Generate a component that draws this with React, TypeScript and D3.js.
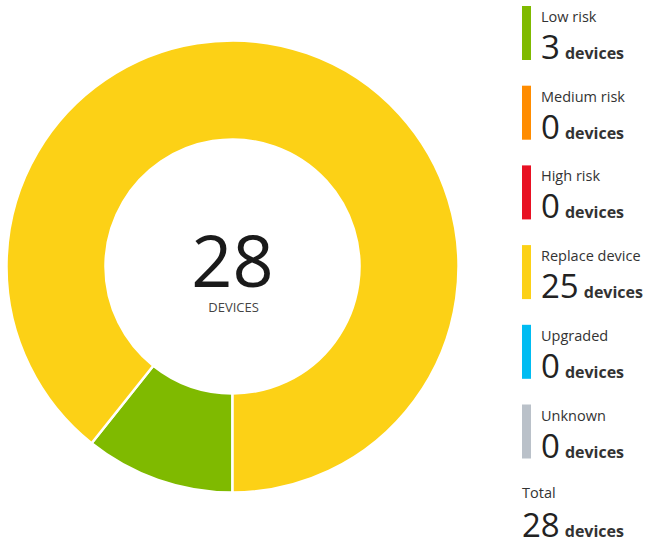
import React from "react";
import * as d3 from "d3";

const categories = ["Low risk", "Medium risk", "High risk", "Replace device", "Upgraded", "Unknown"];
const counts = [3, 0, 0, 25, 0, 0];
const colors = ["#7FBA00", "#FF8C00", "#E81123", "#FCD116", "#00BCF2", "#BAC1C9"];
const centerLabel = "DEVICES";
const unitLabel = "devices";
const totalLabel = "Total";

const W = 653;
const H = 549;
const FONT = "'Segoe UI', 'Open Sans', sans-serif";

export default function App() {
  const total = d3.sum(counts);
  const cx = 232.5;
  const cy = 266.5;
  const outerR = 226;
  const innerR = 127;

  const pie = d3
    .pie<number>()
    .sort(null)
    .startAngle(Math.PI)
    .endAngle(3 * Math.PI)
    .value((d) => d);
  const arcs = pie(counts);
  const arcGen = d3.arc<d3.PieArcDatum<number>>().innerRadius(innerR).outerRadius(outerR);

  const legendY = d3
    .scaleLinear()
    .domain([0, 1])
    .range([6, 6 + 79.7]);

  const rows = categories.map((c, i) => ({ c, v: counts[i], color: colors[i], top: legendY(i) }));
  const totalTop = legendY(categories.length);

  return (
    <svg width={W} height={H} style={{ position: "absolute", left: 0, top: 0, background: "#fff" }}>
      <g transform={`translate(${cx},${cy})`}>
        {arcs.map((a, i) =>
          a.value > 0 ? (
            <path key={i} d={arcGen(a) || ""} fill={colors[i]} stroke="#fff" strokeWidth={2.5} />
          ) : null
        )}
        <text
          x={0}
          y={20}
          textAnchor="middle"
          fontFamily={FONT}
          fontSize={72}
          fill="#1a1a1a"
        >
          {total}
        </text>
        <text x={1} y={45.5} textAnchor="middle" fontFamily={FONT} fontSize={13} fill="#444">
          {centerLabel}
        </text>
      </g>
      {rows.map((r, i) => (
        <g key={i} transform={`translate(522,${r.top})`}>
          <rect x={0} y={0} width={9} height={54} fill={r.color} />
          <text x={19} y={16} fontFamily={FONT} fontSize={14.5} fill="#333">
            {r.c}
          </text>
          <text x={19} y={53} fontFamily={FONT} fill="#222">
            <tspan fontSize={33}>{r.v}</tspan>
            <tspan dx={5} fontSize={16} fontWeight="bold" fill="#333">
              {unitLabel}
            </tspan>
          </text>
        </g>
      ))}
      <g transform={`translate(522,${totalTop})`}>
        <text x={0} y={14} fontFamily={FONT} fontSize={14.5} fill="#333">
          {totalLabel}
        </text>
        <text x={0} y={53} fontFamily={FONT} fill="#222">
          <tspan fontSize={33}>{total}</tspan>
          <tspan dx={5} fontSize={16} fontWeight="bold" fill="#333">
            {unitLabel}
          </tspan>
        </text>
      </g>
    </svg>
  );
}
